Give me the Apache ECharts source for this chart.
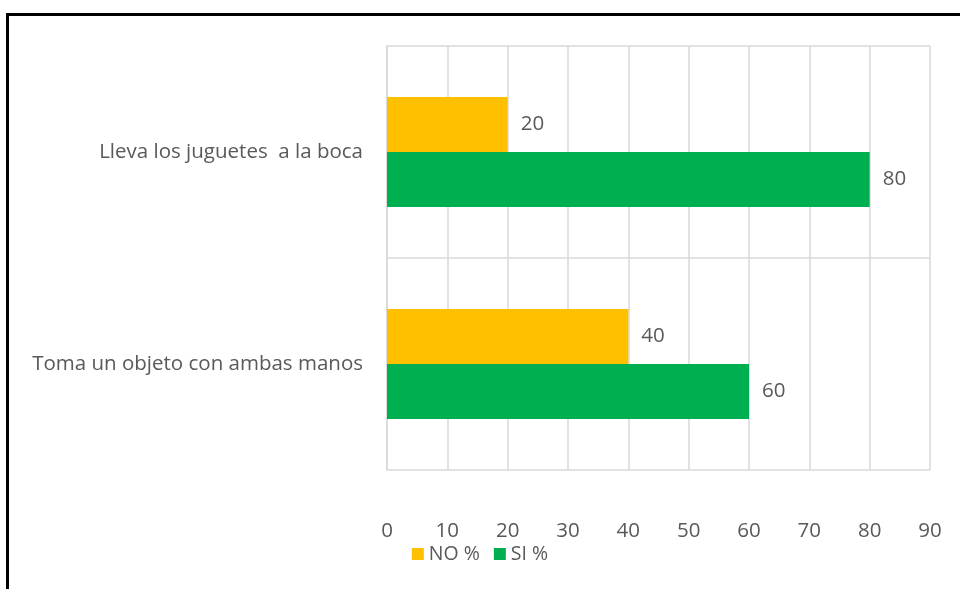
<!DOCTYPE html>
<html>
<head>
<meta charset="utf-8">
<script src="https://cdn.jsdelivr.net/npm/echarts@6/dist/echarts.min.js"></script>
<style>
  html, body { margin: 0; padding: 0; background: #fff; }
  #chart { width: 960px; height: 589px; }
</style>
</head>
<body>
<div id="chart"></div>
<script>
// Categories listed bottom-to-top along the vertical axis
const categories = ['Toma un objeto con ambas manos', 'Lleva los juguetes  a la boca'];
const noValues = [40, 20];
const siValues = [60, 80];
const seriesNames = ['NO %', 'SI %'];
const xTicks = { min: 0, max: 90, interval: 10 };

const textColor = '#595959';
const gridColor = '#d9d9d9';
const fontFamily = '"Open Sans", "Noto Sans", sans-serif';
const fontSize = 20.5;

const chart = echarts.init(document.getElementById('chart'), null, { renderer: 'canvas' });

const labelStyle = {
  show: true,
  position: 'right',
  distance: 13,
  color: textColor,
  fontFamily: fontFamily,
  fontSize: fontSize
};

chart.setOption({
  animation: false,
  backgroundColor: '#fff',
  grid: { left: 387, right: 30, top: 46, bottom: 119, containLabel: false },
  legend: {
    data: seriesNames,
    bottom: 20,
    left: 'center',
    itemWidth: 12,
    itemHeight: 12,
    itemGap: 14,
    icon: 'rect',
    textStyle: { color: textColor, fontFamily: fontFamily, fontSize: fontSize - 1, padding: [0, 0, 0, 0] }
  },
  xAxis: {
    type: 'value',
    min: xTicks.min,
    max: xTicks.max,
    interval: xTicks.interval,
    axisLine: { show: false },
    axisTick: { show: false },
    axisLabel: { color: textColor, fontFamily: fontFamily, fontSize: fontSize, margin: 51 },
    splitLine: { show: true, lineStyle: { color: gridColor, width: 1.5 } }
  },
  yAxis: {
    type: 'category',
    data: categories,
    axisLine: { show: true, lineStyle: { color: gridColor, width: 1.5 } },
    axisTick: { show: false },
    axisLabel: { color: textColor, fontFamily: fontFamily, fontSize: fontSize, margin: 24 },
    splitLine: { show: true, lineStyle: { color: gridColor, width: 1.5 } }
  },
  series: [
    {
      name: 'NO %',
      type: 'bar',
      data: noValues,
      barWidth: 55,
      barGap: '0%',
      itemStyle: { color: '#ffc000' },
      label: labelStyle
    },
    {
      name: 'SI %',
      type: 'bar',
      data: siValues,
      barWidth: 55,
      barGap: '0%',
      itemStyle: { color: '#00b050' },
      label: labelStyle
    }
  ],
  graphic: [
    { type: 'rect', shape: { x: 6, y: 13, width: 960, height: 3 }, style: { fill: '#000' }, silent: true },
    { type: 'rect', shape: { x: 6, y: 13, width: 3, height: 589 }, style: { fill: '#000' }, silent: true }
  ]
});
</script>
</body>
</html>
